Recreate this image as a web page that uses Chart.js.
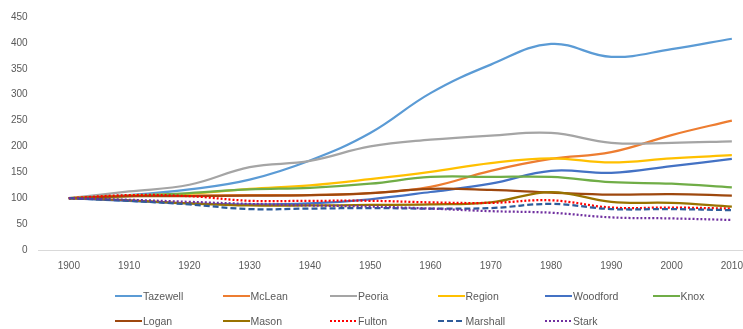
<!DOCTYPE html>
<html>
<head>
<meta charset="utf-8">
<script src="https://cdn.jsdelivr.net/npm/chart.js@4/dist/chart.umd.min.js"></script>
<style>
  html, body { margin: 0; padding: 0; background: #fff; overflow: hidden; width: 743px; height: 329px; }
  #wrap { position: absolute; left: 0; top: 0; width: 762px; height: 286px; }
  #legend { position: absolute; left: 0; top: 0; width: 743px; height: 329px; pointer-events: none;
            font-family: "Liberation Sans", Arial, sans-serif; font-size: 10.5px; color: #595959; }
  .item { position: absolute; display: flex; align-items: center; white-space: nowrap; }
  .item svg { margin-right: 1px; }
</style>
</head>
<body>
<div id="wrap"><canvas id="chart"></canvas></div>
<div id="legend"></div>
<script>
// years along the x axis
const years = ['1900', '1910', '1920', '1930', '1940', '1950', '1960', '1970', '1980', '1990', '2000', '2010'];

// population index, 1900 = 100
const tazewell = [100, 106, 117, 136, 173, 226, 303, 358, 398, 373, 388, 408];
const mclean   = [100, 104, 105, 106, 106, 110, 122, 153, 176, 189, 222, 250];
const peoria   = [100, 113, 126, 160, 172, 200, 213, 221, 226, 207, 207, 210];
const region   = [100, 105, 109, 118, 125, 137, 151, 168, 177, 169, 177, 183];
const woodford = [100, 95, 90, 88, 90, 98, 112, 128, 153, 149, 162, 176];
const knox     = [100, 104, 110, 117, 120, 128, 141, 141, 141, 131, 128, 121];
const logan    = [100, 104, 104, 105, 106, 110, 118, 116, 111, 107, 108, 105];
const mason    = [100, 96, 90, 86, 86, 87, 88, 92, 112, 93, 91, 84];
const fulton   = [100, 106, 104, 95, 95, 95, 92, 91, 96, 82, 82, 80];
const marshall = [100, 95, 88, 79, 80, 81, 80, 81, 89, 79, 79, 77];
const stark    = [100, 97, 93, 89, 86, 84, 80, 75, 72, 63, 61, 58];

const yTicks = [0, 50, 100, 150, 200, 250, 300, 350, 400, 450];

const series = [
  { label: 'Tazewell', data: tazewell, color: '#5B9BD5', dash: [] },
  { label: 'McLean',   data: mclean,   color: '#ED7D31', dash: [] },
  { label: 'Peoria',   data: peoria,   color: '#A5A5A5', dash: [] },
  { label: 'Region',   data: region,   color: '#FFC000', dash: [] },
  { label: 'Woodford', data: woodford, color: '#4472C4', dash: [] },
  { label: 'Knox',     data: knox,     color: '#70AD47', dash: [] },
  { label: 'Logan',    data: logan,    color: '#9E480E', dash: [] },
  { label: 'Mason',    data: mason,    color: '#997300', dash: [] },
  { label: 'Fulton',   data: fulton,   color: '#FF0000', dash: [2, 2] },
  { label: 'Marshall', data: marshall, color: '#2E5C9A', dash: [6, 3] },
  { label: 'Stark',    data: stark,    color: '#7030A0', dash: [2, 2] }
];

const font = { family: '"Liberation Sans", Arial, sans-serif', size: 10 };

new Chart(document.getElementById('chart'), {
  type: 'line',
  data: {
    labels: years,
    datasets: series.map(function(s, i) {
      return {
        label: s.label,
        data: s.data,
        borderColor: s.color,
        backgroundColor: s.color,
        borderWidth: 2.25,
        borderDash: s.dash,
        borderCapStyle: 'butt',
        pointRadius: 0,
        tension: 0.4,
        fill: false,
        // excel paints later series on top
        order: series.length - i
      };
    })
  },
  options: {
    responsive: true,
    maintainAspectRatio: false,
    animation: false,
    layout: { padding: { left: 0, top: 17, right: 0, bottom: 4 } },
    plugins: { legend: { display: false }, tooltip: { enabled: false } },
    scales: {
      x: {
        offset: true,
        grid: { display: false, drawTicks: false },
        border: { display: true, color: '#D9D9D9', width: 1 },
        ticks: { color: '#595959', font: font, padding: 10, maxRotation: 0, autoSkip: false }
      },
      y: {
        min: 0,
        max: 450,
        afterBuildTicks: function(axis) { axis.ticks = yTicks.map(v => ({ value: v })); },
        grid: { display: false, drawTicks: false },
        border: { display: false },
        ticks: { color: '#595959', font: font, padding: 11 }
      }
    }
  }
});

// legend laid out like excel: fixed columns, left aligned rows
const legend = document.getElementById('legend');
series.forEach(function(s, i) {
  const col = i % 6, row = Math.floor(i / 6);
  const item = document.createElement('div');
  item.className = 'item';
  item.style.left = (115 + col * 107.5) + 'px';
  item.style.top = (row === 0 ? 290 : 315) + 'px';
  const dash = s.dash.length ? ' stroke-dasharray="' + s.dash.join(' ') + '"' : '';
  item.innerHTML = '<svg width="27" height="12"><line x1="0" y1="6" x2="27" y2="6" stroke="' + s.color +
    '" stroke-width="2"' + dash + '/></svg><span>' + s.label + '</span>';
  legend.appendChild(item);
});
</script>
</body>
</html>
